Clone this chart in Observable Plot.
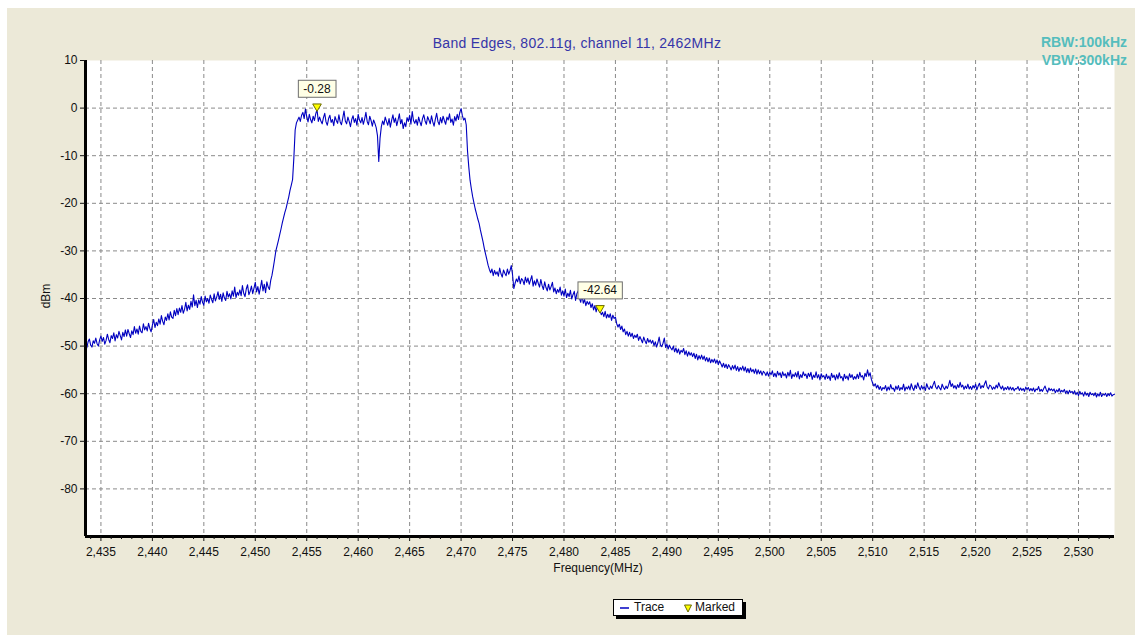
<!DOCTYPE html>
<html>
<head>
<meta charset="utf-8">
<script src="https://cdn.jsdelivr.net/npm/d3@7"></script>
<script src="https://cdn.jsdelivr.net/npm/@observablehq/plot@0.6"></script>
<style>
html, body { margin: 0; padding: 0; background: #ffffff; }
#page { position: relative; width: 1142px; height: 642px; overflow: hidden; background: #ffffff;
        font-family: "Liberation Sans", Arial, sans-serif; }
#panel { position: absolute; left: 7px; top: 8px; width: 1128px; height: 627px; background: #ECE9D8; }
#chart { position: absolute; left: 0; top: 0; }
#title { position: absolute; left: 577px; top: 35px; transform: translateX(-50%); white-space: nowrap;
         font-size: 14px; line-height: 16px; color: #3535A8; letter-spacing: 0.3px; }
.bw { position: absolute; right: 15px; font-size: 14px; line-height: 16px; font-weight: bold; color: #55BDBD; white-space: nowrap; }
#ylabel { position: absolute; left: 46px; top: 296px; transform: translate(-50%, -50%) rotate(-90deg);
          font-size: 12px; color: #111; white-space: nowrap; }
#xlabel { position: absolute; left: 598px; top: 561px; transform: translateX(-50%);
          font-size: 12px; line-height: 14px; color: #111; white-space: nowrap; }
#legend { position: absolute; left: 613px; top: 599px; width: 128px; height: 15px; background: #fff;
          border: 1px solid #000; box-shadow: 3px 3px 0 #000; font-size: 12px; line-height: 15px; color: #111; }
#legend span { position: absolute; top: 0; }
</style>
</head>
<body>
<div id="page">
  <div id="panel"></div>
  <div id="chart"></div>
  <div id="title"></div>
  <div class="bw" id="rbw" style="top:34px"></div>
  <div class="bw" id="vbw" style="top:52px"></div>
  <div id="ylabel"></div>
  <div id="xlabel"></div>
  <div id="legend">
    <svg width="10" height="15" style="position:absolute;left:6px;top:0"><line x1="0" x2="9" y1="8" y2="8" stroke="#0000C0" stroke-width="1.5"/></svg>
    <span id="legTrace" style="left:20px"></span>
    <svg width="8" height="15" style="position:absolute;left:70px;top:0"><path d="M0.5,5 L7.5,5 L4,12 Z" fill="#FFFF00" stroke="#6b6b00" stroke-width="1"/></svg>
    <span id="legMarked" style="left:81px"></span>
  </div>
</div>
<script>
// ---- texts ----
const titleText = "Band Edges, 802.11g, channel 11, 2462MHz";
const rbwText = "RBW:100kHz";
const vbwText = "VBW:300kHz";
const yLabel = "dBm";
const xLabel = "Frequency(MHz)";
const legendLabels = ["Trace", "Marked"];

// ---- axes ----
const xDomain = [2433.5, 2533.5];
const yDomain = [-90, 10];
const xTicks = [2435, 2440, 2445, 2450, 2455, 2460, 2465, 2470, 2475, 2480, 2485, 2490, 2495, 2500, 2505, 2510, 2515, 2520, 2525, 2530];
const yTicks = [10, 0, -10, -20, -30, -40, -50, -60, -70, -80];
const yGrid = [0, -10, -20, -30, -40, -50, -60, -70, -80];

// ---- markers ----
const markerFreq = [2456, 2483.5];
const markerValue = [-0.28, -42.64];
const markerLabel = ["-0.28", "-42.64"];

// ---- trace: each row = start frequency (MHz), then dBm readings every 0.125 MHz ----
const traceRows = [
  [2433.5, -49.6, -50.4, -49.1, -48.5, -49.8, -50.2, -48.9, -49.4],
  [2434.5, -48.3, -49.5, -50.0, -48.7, -47.9, -49.0, -48.2, -49.6],
  [2435.5, -48.8, -47.5, -48.6, -49.3, -47.8, -48.4, -47.2, -48.9],
  [2436.5, -47.6, -48.3, -46.9, -47.8, -48.7, -47.1, -48.0, -46.6],
  [2437.5, -47.9, -46.5, -47.4, -48.2, -46.8, -47.6, -45.9, -47.3],
  [2438.5, -46.4, -47.5, -45.8, -46.9, -47.2, -45.3, -46.6, -45.9],
  [2439.5, -46.8, -45.2, -46.3, -47.0, -45.6, -44.4, -46.1, -45.0],
  [2440.5, -45.7, -44.3, -45.4, -43.6, -44.8, -45.5, -43.9, -44.6],
  [2441.5, -43.2, -44.5, -42.8, -43.9, -44.2, -42.5, -43.6, -42.1],
  [2442.5, -43.4, -42.0, -42.9, -41.5, -43.1, -42.3, -40.8, -42.6],
  [2443.5, -41.4, -42.3, -40.6, -41.8, -39.2, -41.5, -40.4, -41.9],
  [2444.5, -40.3, -41.2, -39.6, -40.8, -41.4, -39.5, -40.7, -40.0],
  [2445.5, -41.0, -39.3, -40.2, -40.9, -39.0, -40.5, -39.7, -38.6],
  [2446.5, -40.2, -39.1, -40.6, -38.8, -39.9, -40.4, -38.5, -39.7],
  [2447.5, -39.0, -40.1, -38.4, -39.5, -37.6, -39.8, -38.7, -39.3],
  [2448.5, -38.2, -39.4, -37.3, -38.9, -39.6, -38.0, -37.1, -39.2],
  [2449.5, -38.5, -37.4, -39.0, -37.8, -36.6, -38.6, -37.5, -39.1],
  [2450.5, -37.7, -36.2, -38.4, -37.0, -38.8, -36.5, -37.6, -38.1],
  [2451.5, -36.2, -35.1, -33.5, -31.8, -30.0, -28.9, -27.8, -26.6],
  [2452.5, -25.4, -24.1, -23.0, -21.9, -21.0, -19.8, -18.7, -17.3],
  [2453.5, -16.2, -15.0, -10.4, -4.6, -3.1, -2.5, -1.9, -2.8],
  [2454.5, -1.5, -0.9, -2.2, -0.2, -1.8, -2.9, -1.3, -2.4],
  [2455.5, -3.1, -1.7, -2.6, -1.2, -0.3, -2.8, -1.9, -2.7],
  [2456.5, -3.3, -2.0, -1.1, -2.9, -3.6, -2.2, -1.5, -3.0],
  [2457.5, -2.4, -3.7, -1.8, -2.6, -3.2, -1.4, -2.9, -3.5],
  [2458.5, -2.1, -0.6, -2.7, -3.3, -1.9, -2.8, -3.9, -2.4],
  [2459.5, -1.6, -3.0, -2.2, -3.6, -1.3, -2.5, -3.1, -2.0],
  [2460.5, -3.4, -2.3, -0.9, -2.8, -3.5, -1.7, -2.6, -3.8],
  [2461.5, -2.5, -3.2, -4.1, -5.8, -11.2, -6.3, -3.9, -2.7],
  [2462.5, -3.5, -1.9, -2.8, -3.6, -2.2, -4.0, -2.6, -1.4],
  [2463.5, -3.0, -2.1, -3.7, -2.5, -1.2, -3.3, -2.4, -4.3],
  [2464.5, -3.1, -3.9, -2.0, -2.8, -1.5, -3.4, -0.7, -2.6],
  [2465.5, -3.2, -2.4, -3.6, -1.9, -2.9, -3.7, -2.2, -1.4],
  [2466.5, -2.7, -3.4, -1.8, -2.5, -3.3, -1.6, -2.9, -3.8],
  [2467.5, -2.3, -1.1, -2.8, -3.5, -2.0, -3.1, -1.7, -2.6],
  [2468.5, -3.4, -1.9, -2.5, -1.2, -3.0, -2.3, -3.6, -1.8],
  [2469.5, -2.7, -1.3, -2.4, -0.9, -0.1, -1.6, -2.5, -2.1],
  [2470.5, -3.5, -9.0, -12.4, -15.2, -17.0, -18.6, -19.9, -21.2],
  [2471.5, -22.2, -23.3, -24.2, -25.6, -26.8, -28.0, -29.4, -30.6],
  [2472.5, -31.8, -33.0, -33.9, -34.6, -33.8, -35.2, -34.1, -34.9],
  [2473.5, -34.4, -35.3, -33.6, -34.8, -35.5, -34.0, -34.7, -35.2],
  [2474.5, -33.8, -34.9, -34.2, -33.1, -35.0, -37.9, -36.8, -35.9],
  [2475.5, -36.5, -35.3, -36.9, -35.8, -36.2, -37.1, -35.5, -36.6],
  [2476.5, -35.7, -37.0, -36.1, -35.2, -37.4, -36.3, -37.2, -35.9],
  [2477.5, -36.8, -37.6, -36.0, -37.3, -38.1, -36.5, -37.7, -38.4],
  [2478.5, -37.0, -38.2, -37.5, -36.6, -38.6, -37.8, -39.0, -38.1],
  [2479.5, -38.7, -37.6, -39.3, -38.4, -39.5, -38.0, -39.8, -38.9],
  [2480.5, -39.6, -38.3, -40.1, -39.2, -38.5, -40.4, -39.0, -38.4],
  [2481.5, -39.9, -40.8, -39.3, -41.0, -40.2, -41.5, -40.6, -41.2],
  [2482.5, -40.7, -41.9, -41.1, -42.4, -41.5, -42.8, -41.7, -42.2],
  [2483.5, -42.6, -43.4, -42.9, -43.8, -42.7, -44.1, -43.3, -44.0],
  [2484.5, -43.2, -44.6, -43.5, -44.2, -43.9, -45.3, -46.0, -45.4],
  [2485.5, -46.5, -45.8, -47.0, -46.4, -47.6, -46.9, -47.9, -47.1],
  [2486.5, -48.0, -47.3, -48.4, -47.7, -48.2, -47.5, -48.8, -48.0],
  [2487.5, -48.6, -49.3, -48.1, -48.9, -49.5, -48.4, -49.2, -48.7],
  [2488.5, -49.4, -48.8, -49.9, -49.1, -50.2, -49.3, -48.1, -49.8],
  [2489.5, -50.1, -49.4, -48.3, -50.3, -49.6, -50.6, -49.8, -50.4],
  [2490.5, -50.8, -50.0, -51.2, -50.4, -51.4, -50.6, -51.7, -50.9],
  [2491.5, -51.3, -50.5, -51.8, -51.0, -52.1, -51.2, -51.9, -51.4],
  [2492.5, -52.2, -51.5, -52.6, -51.7, -52.9, -52.0, -52.7, -51.9],
  [2493.5, -52.8, -52.1, -53.1, -52.4, -53.3, -52.5, -53.5, -52.8],
  [2494.5, -53.4, -52.7, -53.6, -52.9, -53.9, -53.1, -53.7, -54.4],
  [2495.5, -53.6, -54.5, -53.8, -54.7, -53.9, -54.4, -55.0, -54.1],
  [2496.5, -54.8, -54.0, -55.1, -54.3, -55.3, -54.5, -55.0, -54.2],
  [2497.5, -55.2, -54.4, -55.5, -54.7, -55.6, -54.6, -55.4, -54.9],
  [2498.5, -55.7, -54.8, -55.9, -55.0, -55.8, -55.2, -56.1, -55.3],
  [2499.5, -55.6, -56.2, -55.4, -56.3, -55.5, -56.0, -55.2, -56.4],
  [2500.5, -55.7, -56.5, -55.3, -56.1, -55.6, -56.6, -55.4, -56.2],
  [2501.5, -55.8, -56.7, -55.5, -56.3, -55.1, -56.8, -55.9, -56.4],
  [2502.5, -55.6, -56.5, -55.3, -56.9, -56.0, -56.6, -55.4, -56.2],
  [2503.5, -55.9, -56.8, -55.7, -56.4, -55.5, -57.0, -56.1, -56.6],
  [2504.5, -55.4, -56.7, -56.0, -57.1, -55.8, -56.5, -56.2, -57.0],
  [2505.5, -55.9, -56.8, -56.3, -57.2, -55.7, -56.6, -56.1, -57.1],
  [2506.5, -56.0, -56.9, -55.6, -56.7, -56.4, -57.3, -55.9, -56.8],
  [2507.5, -56.3, -57.1, -55.8, -56.6, -56.0, -57.0, -56.4, -56.9],
  [2508.5, -55.9, -56.8, -55.5, -56.5, -56.2, -57.1, -55.7, -56.4],
  [2509.5, -55.0, -56.3, -55.6, -57.0, -57.8, -58.4, -57.9, -58.8],
  [2510.5, -58.2, -59.1, -58.5, -59.3, -58.7, -59.0, -58.3, -59.4],
  [2511.5, -58.6, -59.2, -58.1, -59.0, -58.8, -59.5, -58.4, -59.1],
  [2512.5, -58.3, -59.3, -58.7, -59.1, -58.0, -59.4, -58.6, -59.0],
  [2513.5, -58.4, -59.2, -57.9, -58.8, -59.3, -58.2, -58.9, -57.7],
  [2514.5, -58.6, -59.2, -58.3, -59.0, -58.5, -59.3, -57.9, -58.7],
  [2515.5, -59.1, -58.4, -58.9, -58.1, -57.4, -58.6, -59.0, -58.3],
  [2516.5, -58.8, -59.2, -58.0, -58.7, -59.1, -58.4, -58.9, -58.2],
  [2517.5, -57.2, -58.5, -57.9, -58.8, -58.3, -59.0, -58.1, -58.7],
  [2518.5, -57.6, -58.6, -58.2, -59.1, -58.4, -58.9, -58.0, -59.0],
  [2519.5, -58.5, -59.1, -58.3, -58.8, -58.0, -59.2, -58.4, -57.8],
  [2520.5, -58.9, -58.3, -58.7, -57.9, -57.3, -58.6, -59.0, -58.2],
  [2521.5, -58.4, -59.1, -58.6, -59.0, -58.2, -58.8, -57.7, -58.5],
  [2522.5, -59.0, -58.4, -59.3, -58.7, -59.1, -58.5, -59.2, -58.6],
  [2523.5, -59.2, -58.7, -59.4, -58.9, -59.0, -58.5, -59.3, -58.8],
  [2524.5, -59.3, -58.9, -59.5, -58.6, -59.1, -58.7, -59.4, -58.9],
  [2525.5, -59.4, -58.8, -59.6, -59.0, -59.2, -58.5, -59.5, -59.1],
  [2526.5, -59.5, -58.9, -58.4, -59.2, -59.7, -58.8, -59.3, -59.0],
  [2527.5, -59.4, -59.0, -59.8, -59.2, -59.6, -58.9, -59.7, -59.3],
  [2528.5, -59.6, -59.1, -59.9, -59.4, -60.0, -59.3, -59.8, -59.5],
  [2529.5, -60.0, -59.4, -60.2, -59.7, -60.4, -59.5, -60.1, -59.8],
  [2530.5, -60.5, -59.6, -60.3, -59.9, -60.6, -59.7, -60.2, -60.0],
  [2531.5, -60.4, -59.8, -60.7, -60.0, -60.5, -59.7, -60.6, -60.1],
  [2532.5, -60.3, -59.9, -60.6, -60.0, -60.4, -59.8, -60.5, -60.2],
  [2533.5, -60.1]
];

// ---- build tables for the library ----
const trace = [];
for (const row of traceRows) {
  const f0 = row[0];
  for (let j = 1; j < row.length; j++) trace.push({f: f0 + (j - 1) * 0.125, v: row[j]});
}
const markers = markerFreq.map((f, i) => ({f, v: markerValue[i], label: markerLabel[i]}));
const minorTicks = d3.range(2434, 2534, 1).filter(t => !xTicks.includes(t));

document.getElementById("title").textContent = titleText;
document.getElementById("rbw").textContent = rbwText;
document.getElementById("vbw").textContent = vbwText;
document.getElementById("ylabel").textContent = yLabel;
document.getElementById("xlabel").textContent = xLabel;
document.getElementById("legTrace").textContent = legendLabels[0];
document.getElementById("legMarked").textContent = legendLabels[1];

const fmt = d3.format(",");
const chart = Plot.plot({
  width: 1142,
  height: 642,
  marginLeft: 85,
  marginRight: 28,
  marginTop: 60,
  marginBottom: 106,
  style: {fontFamily: '"Liberation Sans", Arial, sans-serif', fontSize: "12px", color: "#111", background: "transparent"},
  x: {domain: xDomain},
  y: {domain: yDomain},
  marks: [
    Plot.frame({fill: "white", stroke: "none"}),
    Plot.gridX(xTicks, {stroke: "#8a8a8a", strokeOpacity: 1, strokeDasharray: "4,3"}),
    Plot.gridY(yGrid, {stroke: "#8a8a8a", strokeOpacity: 1, strokeDasharray: "4,3"}),
    Plot.line(trace, {x: "f", y: "v", stroke: "#0000C0", strokeWidth: 1.1}),
    Plot.dot(markers, {x: "f", y: "v", symbol: "triangle", rotate: 180, r: 3.2, dy: -3, fill: "#FFFF00", stroke: "#6b6b00", strokeWidth: 1}),
    Plot.text(markers, {x: "f", y: "v", text: "label", dy: -20.5, fontSize: 12, fill: "#111"}),
    Plot.ruleX([xDomain[0]], {stroke: "#000", strokeWidth: 3}),
    Plot.ruleY([yDomain[0]], {stroke: "#000", strokeWidth: 3}),
    Plot.axisX(xTicks, {tickFormat: d => fmt(d), tickSize: 5, tickPadding: 6, label: null, fontSize: 12}),
    Plot.axisX(minorTicks, {tickFormat: () => "", tickSize: 3, label: null}),
    Plot.axisY(yTicks, {tickFormat: d => String(d), tickSize: 5, tickPadding: 3, label: null, fontSize: 12})
  ]
});
document.getElementById("chart").appendChild(chart);

// boxes behind the marker labels
const svgNS = "http://www.w3.org/2000/svg";
d3.select(chart).selectAll('g[aria-label="text"] text').each(function () {
  const bb = this.getBBox();
  const r = document.createElementNS(svgNS, "rect");
  r.setAttribute("x", bb.x - 5);
  r.setAttribute("y", bb.y - 1.5);
  r.setAttribute("width", bb.width + 10);
  r.setAttribute("height", bb.height + 3);
  r.setAttribute("fill", "#FFFFE6");
  r.setAttribute("stroke", "#6e6e6e");
  r.setAttribute("stroke-width", "1");
  const t = this.getAttribute("transform");
  if (t) r.setAttribute("transform", t);
  this.parentNode.insertBefore(r, this);
});
</script>
</body>
</html>
